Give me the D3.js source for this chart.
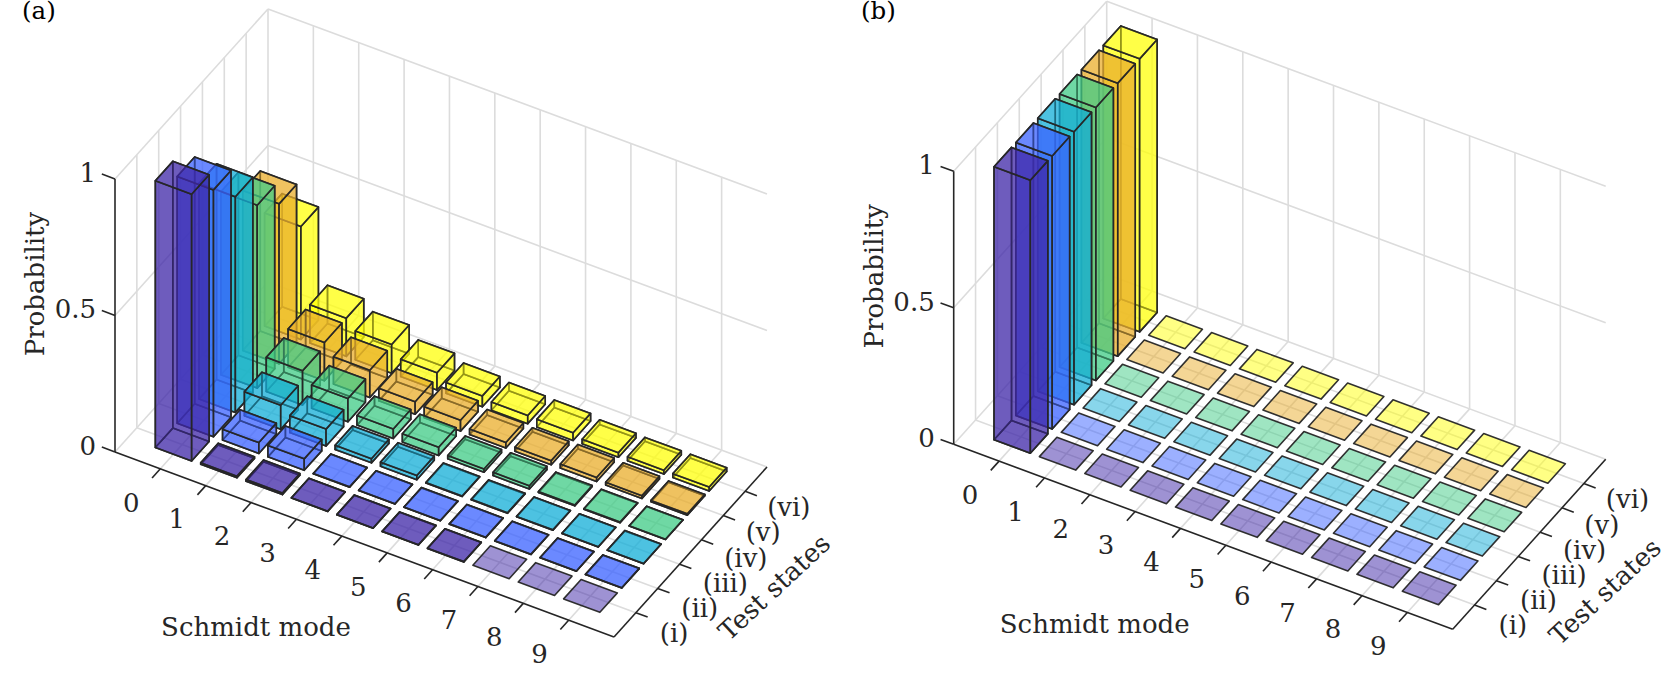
<!DOCTYPE html>
<html>
<head>
<meta charset="utf-8">
<script src="https://d3js.org/d3.v7.min.js"></script>
<style>
  html, body { margin: 0; padding: 0; background: #fff; }
  svg { display: block; }
  text { font-family: "DejaVu Serif", serif; fill: #262626; font-size: 26px; }
</style>
</head>
<body>
<div id="chart"></div>
<script>
var modes = [0, 1, 2, 3, 4, 5, 6, 7, 8, 9];
var stateLabels = ["(i)", "(ii)", "(iii)", "(iv)", "(v)", "(vi)"];
var probTicks = [0, 0.5, 1];
var stateColors = ["#3e26a8", "#3a62ff", "#12add8", "#3fcb85", "#e9ae2c", "#ffff0a"];

// panel (a), one list per test state
var aState1 = [0.977, 0.006, 0.006, 0.001, 0.001, 0.001, 0.001, 0, 0, 0];
var aState2 = [0.904, 0.040, 0.042, 0.001, 0.001, 0.001, 0.001, 0.001, 0.001, 0.001];
var aState3 = [0.790, 0.088, 0.062, 0.015, 0.015, 0.002, 0.002, 0.001, 0.001, 0.001];
var aState4 = [0.670, 0.125, 0.085, 0.035, 0.030, 0.012, 0.012, 0.003, 0.002, 0.001];
var aState5 = [0.586, 0.140, 0.100, 0.046, 0.040, 0.020, 0.015, 0.015, 0.010, 0.005];
var aState6 = [0.414, 0.140, 0.105, 0.063, 0.040, 0.030, 0.028, 0.017, 0.014, 0.014];

// panel (b): all the weight is in mode 0
var bState1 = [1, 0, 0, 0, 0, 0, 0, 0, 0, 0];
var bState2 = [1, 0, 0, 0, 0, 0, 0, 0, 0, 0];
var bState3 = [1, 0, 0, 0, 0, 0, 0, 0, 0, 0];
var bState4 = [1, 0, 0, 0, 0, 0, 0, 0, 0, 0];
var bState5 = [1, 0, 0, 0, 0, 0, 0, 0, 0, 0];
var bState6 = [1, 0, 0, 0, 0, 0, 0, 0, 0, 0];

var width = 1662;
var height = 676;
var barHalf = 0.4;
var gridColor = "#dcdcdc";
var inkColor = "#262626";

var svg = d3.select("#chart").append("svg")
  .attr("width", width)
  .attr("height", height);

// oblique view: each data axis moves along its own screen direction
var xToX = d3.scaleLinear().domain([-1, 10]).range([0, 499]);
var xToY = d3.scaleLinear().domain([-1, 10]).range([0, 185]);
var yToX = d3.scaleLinear().domain([0, 7]).range([0, 153]);
var yToY = d3.scaleLinear().domain([0, 7]).range([0, -170]);
var zToY = d3.scaleLinear().domain([0, 1]).range([0, -273]);

function project(x, y, z) {
  return [xToX(x) + yToX(y), xToY(x) + yToY(y) + zToY(z)];
}

function drawPanel(originX, originY, rows, schmidtY, testPos) {
  var g = svg.append("g").attr("transform", "translate(" + originX + "," + originY + ")");

  function seg(layer, a, b, color) {
    var p = project(a[0], a[1], a[2]);
    var q = project(b[0], b[1], b[2]);
    layer.append("line")
      .attr("x1", p[0]).attr("y1", p[1])
      .attr("x2", q[0]).attr("y2", q[1])
      .attr("stroke", color)
      .attr("stroke-width", 1.6);
  }

  // grid on floor and the two walls
  var grid = g.append("g");
  modes.forEach(function(m) {
    seg(grid, [m, 0, 0], [m, 7, 0], gridColor);
    seg(grid, [m, 7, 0], [m, 7, 1], gridColor);
  });
  stateLabels.forEach(function(s, i) {
    seg(grid, [-1, i + 1, 0], [10, i + 1, 0], gridColor);
    seg(grid, [-1, i + 1, 0], [-1, i + 1, 1], gridColor);
  });
  seg(grid, [-1, 7, 0], [-1, 7, 1], gridColor);
  seg(grid, [-1, 0, 0], [-1, 7, 0], gridColor);
  seg(grid, [-1, 7, 0], [10, 7, 0], gridColor);
  probTicks.slice(1).forEach(function(z) {
    seg(grid, [-1, 0, z], [-1, 7, z], gridColor);
    seg(grid, [-1, 7, z], [10, 7, z], gridColor);
  });

  // axes and ticks
  var axes = g.append("g");
  seg(axes, [-1, 0, 0], [-1, 0, 1], inkColor);
  seg(axes, [-1, 0, 0], [10, 0, 0], inkColor);
  seg(axes, [10, 0, 0], [10, 7, 0], inkColor);
  probTicks.forEach(function(z) {
    seg(axes, [-1.29, 0, z], [-1, 0, z], inkColor);
    var p = project(-1, 0, z);
    axes.append("text")
      .attr("x", p[0] - 19)
      .attr("y", p[1] - 6.5)
      .attr("dy", "0.36em")
      .attr("text-anchor", "end")
      .text(z);
  });
  modes.forEach(function(m) {
    seg(axes, [m, -0.38, 0], [m, 0, 0], inkColor);
    var p = project(m, 0, 0);
    axes.append("text")
      .attr("x", p[0] - 29)
      .attr("y", p[1] + 33.4)
      .attr("dy", "0.36em")
      .attr("text-anchor", "middle")
      .text(m);
  });
  stateLabels.forEach(function(s, i) {
    seg(axes, [10, i + 1, 0], [10.26, i + 1, 0], inkColor);
    var p = project(10, i + 1, 0);
    // the labels climb a little faster than the ticks do
    axes.append("text")
      .attr("x", p[0] + 24 - i * 0.4)
      .attr("y", p[1] + 20 - i * 0.9)
      .attr("dy", "0.36em")
      .text(s);
  });

  // bars, far ones first so the see-through faces stack right
  var bars = g.append("g");
  function face(pts, color) {
    bars.append("polygon")
      .attr("points", pts.map(function(d) { return project(d[0], d[1], d[2]).join(","); }).join(" "))
      .attr("fill", color)
      .attr("fill-opacity", 0.5)
      .attr("stroke", inkColor)
      .attr("stroke-opacity", 0.95)
      .attr("stroke-width", 1.6)
      .attr("stroke-linejoin", "round");
  }
  d3.range(rows.length - 1, -1, -1).forEach(function(r) {
    var color = stateColors[r];
    modes.forEach(function(m) {
      var v = rows[r][m];
      var x0 = m - barHalf, x1 = m + barHalf;
      var y0 = r + 1 - barHalf, y1 = r + 1 + barHalf;
      if (v > 0) {
        face([[x0, y0, 0], [x1, y0, 0], [x1, y1, 0], [x0, y1, 0]], color);
        face([[x0, y1, 0], [x1, y1, 0], [x1, y1, v], [x0, y1, v]], color);
        face([[x0, y0, 0], [x0, y1, 0], [x0, y1, v], [x0, y0, v]], color);
        face([[x0, y0, 0], [x1, y0, 0], [x1, y0, v], [x0, y0, v]], color);
        face([[x1, y0, 0], [x1, y1, 0], [x1, y1, v], [x1, y0, v]], color);
      }
      face([[x0, y0, v], [x1, y0, v], [x1, y1, v], [x0, y1, v]], color);
    });
  });

  // axis titles
  g.append("text")
    .attr("transform", "translate(-80,-168)rotate(-90)")
    .attr("text-anchor", "middle")
    .attr("dy", "0.36em")
    .text("Probability");
  g.append("text")
    .attr("x", 141)
    .attr("y", schmidtY)
    .attr("text-anchor", "middle")
    .attr("dy", "0.36em")
    .text("Schmidt mode");
  g.append("text")
    .attr("transform", "translate(" + testPos[0] + "," + testPos[1] + ")rotate(-43)")
    .attr("text-anchor", "middle")
    .attr("dy", "0.36em")
    .text("Test states");
}

drawPanel(115, 452, [aState1, aState2, aState3, aState4, aState5, aState6], 175, [659, 135]);
drawPanel(953.7, 444.3, [bState1, bState2, bState3, bState4, bState5, bState6], 179, [651, 147]);

// panel letters sit in page space, not in the plot frame
svg.append("text").attr("x", 22).attr("y", 19).style("fill", "#000").style("font-size", "24.5px").text("(a)");
svg.append("text").attr("x", 861).attr("y", 19).style("fill", "#000").style("font-size", "24.5px").text("(b)");
</script>
</body>
</html>
